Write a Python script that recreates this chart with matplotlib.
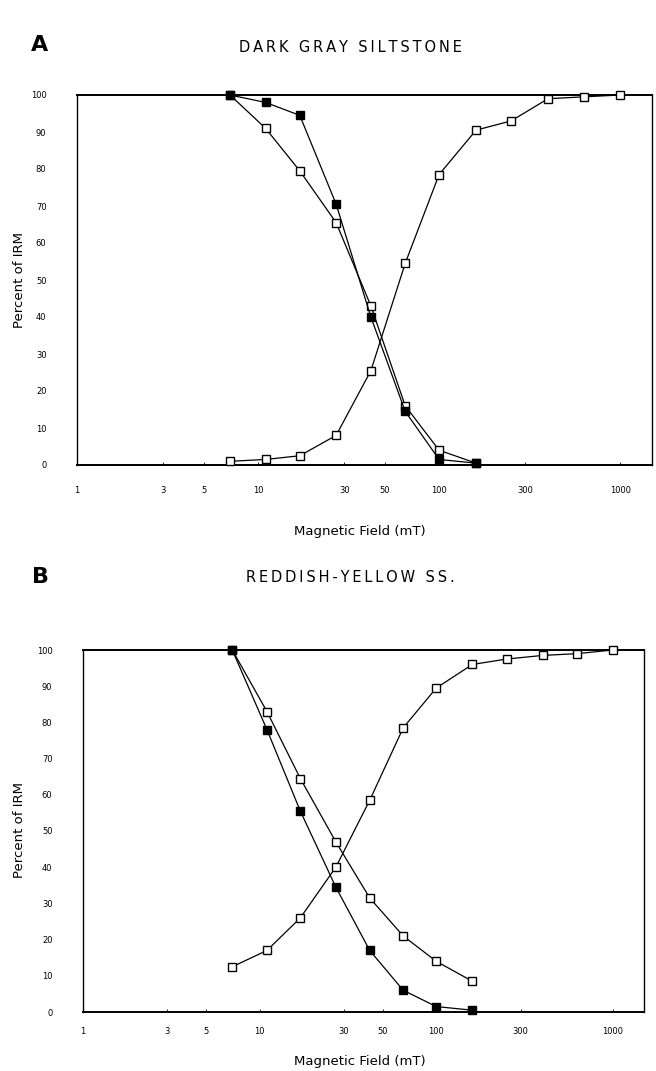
import matplotlib
matplotlib.use('agg')
import matplotlib.pyplot as plt
from matplotlib.ticker import FixedLocator, NullLocator

# AF / IRM steps (mT)
fields = [7, 11, 17, 27, 42, 65, 100, 160, 250, 400, 630, 1000]

# panel A - dark gray siltstone
a_open_dec = [100, 91, 79.5, 65.5, 43, 16, 4, 0.5]
a_fill_dec = [100, 98, 94.5, 70.5, 40, 14.5, 1.5, 0.5]
a_open_rise = [1, 1.5, 2.5, 8, 25.5, 54.5, 78.5, 90.5, 93, 99, 99.5, 100]

# panel B - reddish-yellow sandstone
b_open_dec = [100, 83, 64.5, 47, 31.5, 21, 14, 8.5]
b_fill_dec = [100, 78, 55.5, 34.5, 17, 6, 1.5, 0.5]
b_open_rise = [12.5, 17, 26, 40, 58.5, 78.5, 89.5, 96, 97.5, 98.5, 99, 100]

xticks = [1, 3, 5, 10, 30, 50, 100, 300, 1000]
yticks = list(range(0, 101, 10))

W, H = 656, 1071
fig = plt.figure(figsize=(W / 100, H / 100), dpi=100)
TS = '\u2009'  # thin space, for the wide lettering of the original


def spaced(s):
    return TS.join(s)


def box(l, r, t, b):
    return [l / W, 1 - b / H, (r - l) / W, (b - t) / H]


def panel(rect, open_dec, fill_dec, open_rise, letter, title, lpos, tpos, xlpos, ylpos, xpad):
    ax = fig.add_axes(rect)
    style = dict(color='black', lw=0.9, ms=5.5, mec='black', mew=1.0, clip_on=False)
    ax.plot(fields[:len(open_rise)], open_rise, '-s', mfc='white', zorder=3, **style)
    ax.plot(fields[:len(open_dec)], open_dec, '-s', mfc='white', zorder=3, **style)
    ax.plot(fields[:len(fill_dec)], fill_dec, '-s', mfc='black', zorder=4, **style)
    ax.set_xscale('log')
    ax.set_xlim(1, 1500)
    ax.set_ylim(0, 100)
    ax.xaxis.set_major_locator(FixedLocator(xticks))
    ax.xaxis.set_minor_locator(NullLocator())
    ax.set_xticklabels([str(v) for v in xticks])
    ax.set_yticks(yticks)
    ax.tick_params(axis='both', labelsize=6, length=2, direction='in', width=0.6, pad=xpad)
    ax.tick_params(axis='y', length=0, pad=22)
    for s in ax.spines.values():
        s.set_linewidth(1.0)
    ax.spines['top'].set_linewidth(1.4)
    ax.spines['bottom'].set_linewidth(1.4)
    fig.text(lpos[0] / W, 1 - lpos[1] / H, letter, fontsize=16, fontweight='bold',
             ha='center', va='center', family='Liberation Sans Narrow')
    fig.text(tpos[0] / W, 1 - tpos[1] / H, spaced(title), fontsize=10.5,
             ha='center', va='center')
    fig.text(xlpos[0] / W, 1 - xlpos[1] / H, 'Magnetic Field (mT)', fontsize=9.5,
             ha='center', va='center')
    fig.text(ylpos[0] / W, 1 - ylpos[1] / H, 'Percent of IRM', fontsize=9.5,
             ha='center', va='center', rotation=90)
    return ax


panel(box(77, 652, 95, 465), a_open_dec, a_fill_dec, a_open_rise,
      'A', 'DARK GRAY SILTSTONE', (40, 45), (350, 47), (360, 532), (20, 280), 15)
panel(box(83, 644, 650, 1012), b_open_dec, b_fill_dec, b_open_rise,
      'B', 'REDDISH-YELLOW SS.', (40, 577), (350, 577), (360, 1062), (20, 830), 11)

fig.savefig('out.png', dpi=100)
